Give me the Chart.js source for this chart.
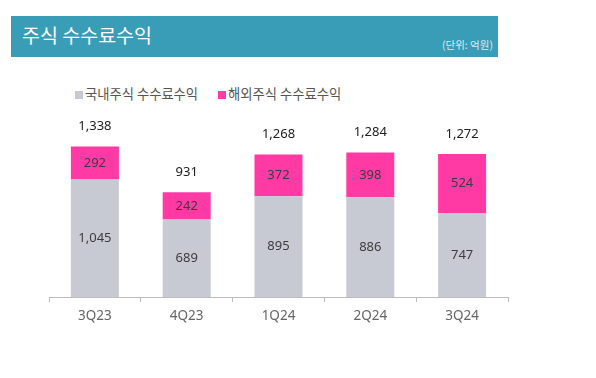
<!DOCTYPE html>
<html>
<head>
<meta charset="utf-8">
<script src="https://cdn.jsdelivr.net/npm/chart.js@4/dist/chart.umd.min.js"></script>
<style>
  body { margin: 0; background: #fff; font-family: "Noto Sans CJK KR", "Noto Sans", sans-serif; }
  #wrap { position: relative; width: 596px; height: 378px; overflow: hidden; }
  #header {
    position: absolute; left: 11px; top: 16px; width: 487px; height: 41px;
    background: #3a9db8;
  }
  #header .title {
    position: absolute; left: 11px; top: 6px; color: #fff;
    font-size: 19.5px; line-height: 26px;
  }
  #header .unit {
    position: absolute; right: 5px; top: 22px; color: #dce9ee;
    font-size: 10.5px; line-height: 14px;
  }
  #legend { position: absolute; left: 75px; top: 85px; font-size: 13.3px; color: #555; line-height: 17px; white-space: nowrap; }
  #legend span.item { display: inline-block; margin-right: 20px; }
  #legend i { display: inline-block; width: 8px; height: 8px; margin-right: 2px; vertical-align: 0px; }
  canvas { position: absolute; left: 0; top: 0; }
</style>
</head>
<body>
<div id="wrap">
  <div id="header">
    <div class="title">주식 수수료수익</div>
    <div class="unit">(단위: 억원)</div>
  </div>
  <div id="legend"></div>
  <canvas id="feeChart" width="596" height="378"></canvas>
</div>
<script>
// quarters and fee income (unit: 100M KRW)
const quarters = ["3Q23", "4Q23", "1Q24", "2Q24", "3Q24"];
const domesticFees = [1045, 689, 895, 886, 747];
const overseasFees = [292, 242, 372, 398, 524];
const totalFees = [1338, 931, 1268, 1284, 1272];

const seriesNames = ["국내주식 수수료수익", "해외주식 수수료수익"];
const seriesColors = ["#c8cad3", "#ff3aa5"];

// Legend (html)
const legendEl = document.getElementById("legend");
seriesNames.forEach((name, i) => {
  const item = document.createElement("span");
  item.className = "item";
  const box = document.createElement("i");
  box.style.background = seriesColors[i];
  item.appendChild(box);
  item.appendChild(document.createTextNode(name));
  legendEl.appendChild(item);
});

// Draw values inside segments and totals above bars
const valueLabels = {
  id: "valueLabels",
  afterDatasetsDraw(chart) {
    const ctx = chart.ctx;
    ctx.save();
    ctx.textAlign = "center";
    ctx.textBaseline = "middle";
    ctx.font = '13px "Noto Sans", sans-serif';
    chart.data.datasets.forEach((ds, di) => {
      const meta = chart.getDatasetMeta(di);
      meta.data.forEach((bar, i) => {
        ctx.fillStyle = "#3d3d3d";
        const y = (bar.y + bar.base) / 2;
        ctx.fillText(ds.data[i].toLocaleString("en-US"), bar.x, y);
      });
    });
    const topMeta = chart.getDatasetMeta(chart.data.datasets.length - 1);
    topMeta.data.forEach((bar, i) => {
      ctx.fillStyle = "#222";
      ctx.fillText(totalFees[i].toLocaleString("en-US"), bar.x, bar.y - 20);
    });
    ctx.restore();
  },
};

const ctx = document.getElementById("feeChart").getContext("2d");
const feeChart = new Chart(ctx, {
  type: "bar",
  data: {
    labels: quarters,
    datasets: [
      {
        label: seriesNames[0],
        data: domesticFees,
        backgroundColor: seriesColors[0],
      },
      {
        label: seriesNames[1],
        data: overseasFees,
        backgroundColor: seriesColors[1],
      },
    ],
  },
  options: {
    responsive: false,
    animation: false,
    layout: { padding: { left: 49, right: 88, top: 117, bottom: 0 } },
    datasets: { bar: { categoryPercentage: 1, barPercentage: 0.523 } },
    plugins: { legend: { display: false }, tooltip: { enabled: false } },
    scales: {
      x: {
        stacked: true,
        grid: {
          offset: true,
          drawOnChartArea: false,
          drawTicks: true,
          tickLength: 5,
          color: "#bdbdbd",
        },
        border: { color: "#bdbdbd" },
        ticks: {
          color: "#666",
          padding: 6,
          font: { family: '"Noto Sans", sans-serif', size: 13.5 },
        },
        afterFit(scale) {
          scale.height = 81;
        },
      },
      y: { stacked: true, display: false, min: 0, max: 1600 },
    },
  },
  plugins: [valueLabels],
});
</script>
</body>
</html>
